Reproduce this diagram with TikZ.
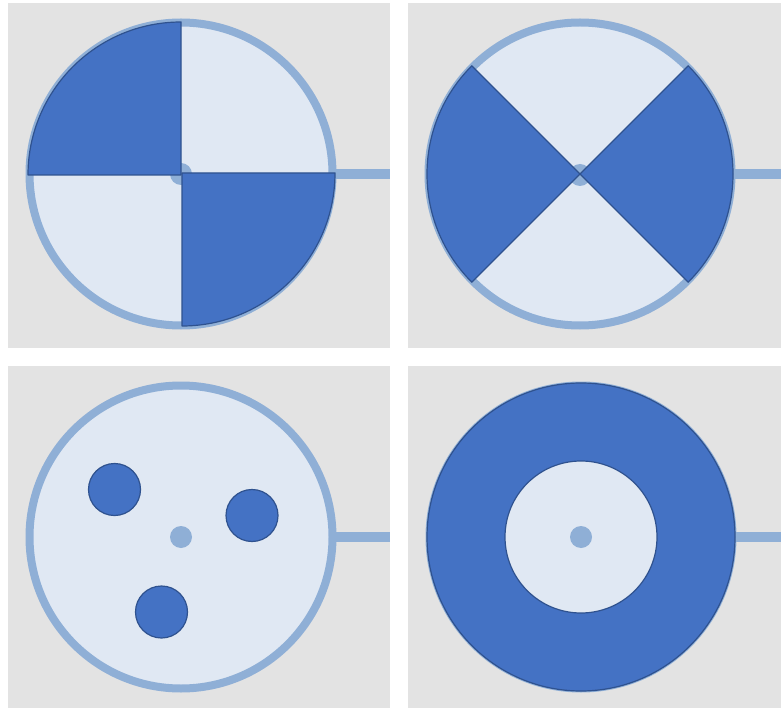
\documentclass[tikz,border=0pt]{standalone}
\definecolor{panelbg}{HTML}{E3E3E3}
\definecolor{ringblue}{HTML}{8FAFD6}
\definecolor{lightfill}{HTML}{E0E8F3}
\definecolor{darkfill}{HTML}{4472C4}
\definecolor{darkline}{HTML}{2F528F}
\begin{document}
\begin{tikzpicture}[x=1pt,y=-1pt,
  panelbox/.style={fill=panelbg,draw=none},
  ringdisc/.style={draw=ringblue,line width=8pt,fill=lightfill},
  hubdot/.style={fill=ringblue,draw=none},
  darkpart/.style={fill=darkfill,draw=darkline,line width=1.2pt,line join=round},
  stem/.style={draw=ringblue,line width=10pt}]
\useasboundingbox (0,0) rectangle (781,708);
\fill[white] (0,0) rectangle (781,708);
% panels
\path[panelbox] (8,3) rectangle (390,348);
\path[panelbox] (408,3) rectangle (781,348);
\path[panelbox] (8,366) rectangle (390,708);
\path[panelbox] (408,366) rectangle (781,708);

% ---------- panel 1 ----------
\coordinate (c1) at (181,174);
\coordinate (e1) at (390,174);
\draw[stem] (c1) ++(150,0) coordinate (s1) -- (e1);
\path[ringdisc] (c1) circle[radius=151.5];
\path[hubdot] (c1) circle[radius=11];
\draw[darkpart] (181,175) -- ++(-153,0) arc[start angle=180,end angle=270,radius=153] -- cycle;
\draw[darkpart] (182,173) -- ++(153,0) arc[start angle=0,end angle=90,radius=153] -- cycle;

% ---------- panel 2 ----------
\coordinate (c2) at (580,174);
\coordinate (e2) at (781,174);
\draw[stem] (c2) ++(150,0) coordinate (s2) -- (e2);
\path[ringdisc] (c2) circle[radius=151.5];
\path[hubdot] (c2) ++(0,1) circle[radius=11];
\draw[darkpart] (c2) -- ++(135:153) arc[start angle=135,end angle=225,radius=153] -- cycle;
\draw[darkpart] (c2) -- ++(45:153) arc[start angle=45,end angle=-45,radius=153] -- cycle;

% ---------- panel 3 ----------
\coordinate (c3) at (181,537);
\coordinate (e3) at (390,537);
\draw[stem] (c3) ++(150,0) coordinate (s3) -- (e3);
\path[ringdisc] (c3) circle[radius=151.5];
\path[hubdot] (c3) circle[radius=11];
\draw[darkpart] (114.5,489.5) circle[radius=26];
\draw[darkpart] (252,515.5) circle[radius=26];
\draw[darkpart] (161.5,612) circle[radius=26];

% ---------- panel 4 ----------
\coordinate (c4) at (581,537);
\coordinate (e4) at (781,537);
\draw[stem] (c4) ++(150,0) coordinate (s4) -- (e4);
\path[ringdisc] (c4) circle[radius=151.5];
\draw[darkpart] (c4) circle[radius=154];
\draw[fill=lightfill,draw=darkline,line width=1.2pt] (c4) circle[radius=76];
\path[hubdot] (c4) circle[radius=11];
\end{tikzpicture}
\end{document}
